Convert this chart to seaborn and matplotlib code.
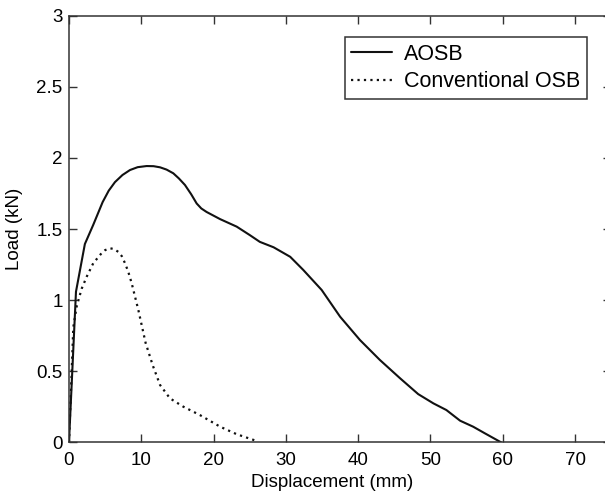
import numpy as np
import pandas as pd
import seaborn as sns
import matplotlib
matplotlib.use("Agg")
import matplotlib.pyplot as plt

# Load-displacement curves
aosb_disp = [0, 0.97, 2.2, 3.36, 4.66, 5.5, 6.36, 7.4, 8.44, 9.5, 10.74, 11.7, 12.6,
             13.5, 14.43, 15.2, 16.04, 16.9, 17.66, 18.3, 19.04, 20.9, 23.2, 25.0,
             26.4, 28.3, 30.6, 32.4, 34.95, 37.5, 40.25, 43.0, 45.8, 48.3, 50.4,
             52.2, 54.1, 55.9, 57.5, 59.8]
aosb_load = [0, 1.06, 1.395, 1.53, 1.69, 1.77, 1.83, 1.88, 1.915, 1.935, 1.943, 1.942,
             1.934, 1.918, 1.892, 1.856, 1.81, 1.745, 1.68, 1.645, 1.62, 1.57, 1.517,
             1.458, 1.41, 1.372, 1.305, 1.213, 1.072, 0.884, 0.72, 0.58, 0.451, 0.34,
             0.275, 0.228, 0.153, 0.111, 0.065, 0]

osb_disp = [0, 0.37, 0.6, 1.06, 1.75, 2.45, 3.36, 4.5, 5.0, 5.67, 6.2, 6.82, 7.3, 7.75,
            8.2, 8.67, 9.6, 10.6, 11.6, 12.6, 13.97, 15.8, 18.1, 20.9, 23.2, 25.7]
osb_load = [0, 0.49, 0.81, 0.955, 1.08, 1.165, 1.26, 1.33, 1.352, 1.365, 1.36, 1.34,
            1.31, 1.26, 1.2, 1.12, 0.93, 0.70, 0.54, 0.404, 0.31, 0.252, 0.193, 0.111,
            0.058, 0.015]

series_names = ["AOSB", "Conventional OSB"]
x_ticks = [0, 10, 20, 30, 40, 50, 60, 70]
y_ticks = [0, 0.5, 1, 1.5, 2, 2.5, 3]
y_tick_labels = ["0", "0.5", "1", "1.5", "2", "2.5", "3"]

aosb = pd.DataFrame({"Displacement": aosb_disp, "Load": aosb_load})
osb = pd.DataFrame({"Displacement": osb_disp, "Load": osb_load})

sns.set_style("ticks")
plt.rcParams["font.family"] = ["Liberation Sans", "DejaVu Sans"]

fig = plt.figure(figsize=(6.05, 4.94), dpi=100)
# right edge of the axes runs past the image, as in the reference
ax = fig.add_axes([0.114, 0.1043, 0.8963, 0.864])

sns.lineplot(data=aosb, x="Displacement", y="Load", ax=ax, color="#111111",
             linewidth=1.5, label=series_names[0])
sns.lineplot(data=osb, x="Displacement", y="Load", ax=ax, color="#111111",
             linewidth=1.6, linestyle=(0, (1, 1.9)), label=series_names[1])

ax.set_xlim(0, 75)
ax.set_ylim(0, 3)
ax.set_xticks(x_ticks)
ax.set_yticks(y_ticks)
ax.set_yticklabels(y_tick_labels)
ax.tick_params(direction="in", length=5.8, width=1.0, color="#333333",
               labelsize=13.5, top=True, right=True, labelcolor="black")
ax.tick_params(axis="x", pad=6.5)
ax.tick_params(axis="y", pad=4.5)
for sp in ax.spines.values():
    sp.set_visible(True)
    sp.set_linewidth(1.1)
    sp.set_color("#333333")

ax.set_xlabel("Displacement (mm)", fontsize=13.5, color="black")
ax.set_ylabel("Load (kN)", fontsize=13.5, color="black")
ax.xaxis.set_label_coords(0.486, -0.074)
ax.yaxis.set_label_coords(-0.084, 0.5)

leg = ax.legend(loc="upper right", bbox_to_anchor=(0.955, 0.949), borderaxespad=0,
                fontsize=15.5, frameon=True, fancybox=False, framealpha=1,
                handlelength=1.9, handletextpad=0.55, borderpad=0.3,
                labelspacing=0.3)
leg.get_frame().set_edgecolor("#333333")
leg.get_frame().set_linewidth(1.1)
for t in leg.get_texts():
    t.set_color("black")

fig.savefig("out.png", dpi=100)
